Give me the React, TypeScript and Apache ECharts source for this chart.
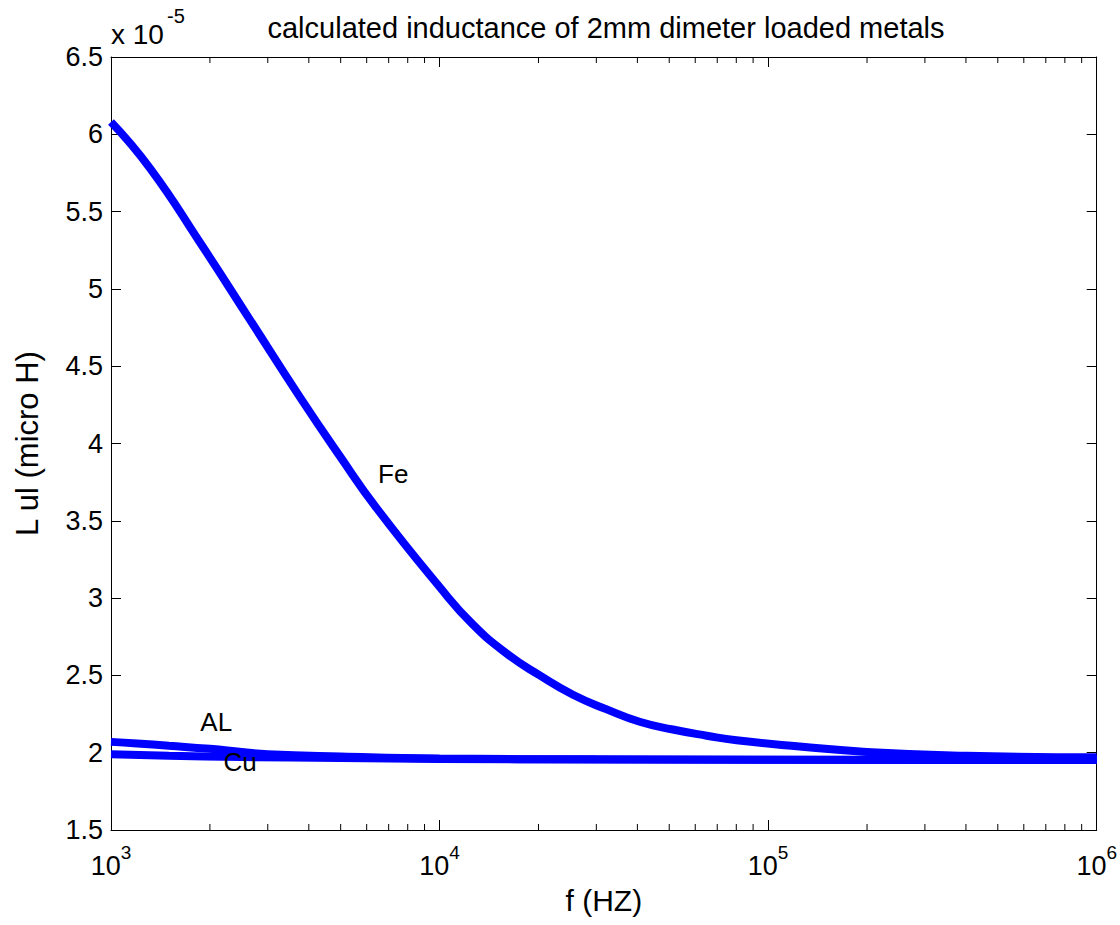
import React, { useEffect, useRef } from 'react';
import * as echarts from 'echarts';

const FONT = '"Liberation Sans", Arial, Helvetica, sans-serif';

const titleText = 'calculated inductance of 2mm dimeter loaded metals';
const xAxisName = 'f (HZ)';
const yAxisName = 'L ul (micro H)';
const yExponentBase = 'x 10';
const yExponentPower = '-5';

// Fe curve (frequency in Hz, inductance in units of 1e-5)
const feFreq = [1000, 1315, 1866, 2649, 3758, 4966, 6442, 10020, 12620, 16030, 20180, 25470, 32280, 40640, 51290, 65010, 80170, 124700, 199500, 401800, 1000000];
const feL = [6.08, 5.78, 5.3, 4.8, 4.3, 3.92, 3.58, 3.07, 2.83, 2.64, 2.5, 2.375, 2.28, 2.2, 2.15, 2.11, 2.08, 2.04, 2.005, 1.98, 1.97];

// AL curve
const alFreq = [1000, 1200, 1500, 2000, 2500, 3000, 5000, 10000, 30000, 100000, 1000000];
const alL = [2.07, 2.06, 2.045, 2.025, 2.005, 1.99, 1.975, 1.962, 1.957, 1.955, 1.953];

// Cu curve
const cuFreq = [1000, 1500, 2500, 5000, 10000, 30000, 1000000];
const cuL = [1.99, 1.98, 1.972, 1.966, 1.96, 1.956, 1.953];

// text annotations
const labelNames = ['Fe', 'AL', 'Cu'];
const labelFreq = [6500, 1870, 2200];
const labelL = [3.8, 2.2, 1.94];

// minor tick positions on the log axis
const minorTickFreqs = [
  2000, 3000, 4000, 5000, 6000, 7000, 8000, 9000,
  20000, 30000, 40000, 50000, 60000, 70000, 80000, 90000,
  200000, 300000, 400000, 500000, 600000, 700000, 800000, 900000,
];

const yMin = 1.5;
const yMax = 6.5;
const yStep = 0.5;
const xMin = 1000;
const xMax = 1000000;

const zip = (xs: number[], ys: number[]) => xs.map((x, i) => [x, ys[i]]);

export default function App() {
  const ref = useRef<HTMLDivElement>(null);
  useEffect(() => {
    if (!ref.current) return;
    const chart = echarts.init(ref.current, undefined, { renderer: 'svg' });

    const grid = { left: 111, right: 23, top: 57, bottom: 95 };
    const black = '#000';
    const lineStyle = { color: black, width: 1 };
    const curveStyle = { color: '#0000ff', width: 8 };

    const option: any = {
      animation: false,
      backgroundColor: '#fff',
      title: {
        text: titleText,
        left: 601,
        top: 8,
        textAlign: 'center',
        textStyle: { fontSize: 29, fontWeight: 'normal', color: black, fontFamily: FONT },
      },
      grid,
      xAxis: [
        {
          type: 'log',
          logBase: 10,
          min: xMin,
          max: xMax,
          position: 'bottom',
          name: xAxisName,
          nameLocation: 'middle',
          nameGap: 55,
          nameTextStyle: { fontSize: 30, color: black, fontFamily: FONT },
          axisLine: { show: true, onZero: false, lineStyle },
          axisTick: { show: true, inside: true, length: 10, lineStyle },
          splitLine: { show: false },
          minorTick: { show: false },
          axisLabel: {
            margin: 13,
            formatter: (v: number) => `{b|10}{s|${Math.round(Math.log10(v))}}`,
            rich: {
              b: { fontSize: 27, color: black, fontFamily: FONT },
              s: { fontSize: 19, color: black, fontFamily: FONT, padding: [0, 0, 26, 0] },
            },
          },
        },
        {
          type: 'log',
          logBase: 10,
          min: xMin,
          max: xMax,
          position: 'top',
          axisLine: { show: true, onZero: false, lineStyle },
          axisTick: { show: true, inside: true, length: 10, lineStyle },
          axisLabel: { show: false },
          splitLine: { show: false },
        },
      ],
      yAxis: [
        {
          type: 'value',
          min: yMin,
          max: yMax,
          interval: yStep,
          position: 'left',
          name: yAxisName,
          nameLocation: 'middle',
          nameGap: 68,
          nameTextStyle: { fontSize: 31, color: black, fontFamily: FONT },
          axisLine: { show: true, onZero: false, lineStyle },
          axisTick: { show: true, inside: true, length: 10, lineStyle },
          splitLine: { show: false },
          axisLabel: {
            margin: 8,
            fontSize: 27,
            color: black,
            fontFamily: FONT,
            formatter: (v: number) => String(v),
          },
        },
        {
          type: 'value',
          min: yMin,
          max: yMax,
          interval: yStep,
          position: 'right',
          axisLine: { show: true, onZero: false, lineStyle },
          axisTick: { show: true, inside: true, length: 10, lineStyle },
          splitLine: { show: false },
          axisLabel: { show: false },
        },
      ],
      graphic: [
        {
          type: 'text',
          left: 111,
          top: 20,
          style: { text: yExponentBase, fontSize: 28, fill: black, fontFamily: FONT },
        },
        {
          type: 'text',
          left: 167,
          top: 6,
          style: { text: yExponentPower, fontSize: 20, fill: black, fontFamily: FONT },
        },
      ],
      series: [
        {
          name: 'Fe',
          type: 'line',
          data: zip(feFreq, feL),
          showSymbol: false,
          symbol: 'none',
          smooth: 0.5,
          lineStyle: curveStyle,
        },
        {
          name: 'AL',
          type: 'line',
          data: zip(alFreq, alL),
          showSymbol: false,
          symbol: 'none',
          smooth: 0.5,
          lineStyle: curveStyle,
        },
        {
          name: 'Cu',
          type: 'line',
          data: zip(cuFreq, cuL),
          showSymbol: false,
          symbol: 'none',
          smooth: 0.5,
          lineStyle: curveStyle,
        },
        {
          name: 'minorTicks',
          type: 'custom',
          silent: true,
          clip: false,
          z: 10,
          data: minorTickFreqs.map((f) => [f, yMin]),
          encode: { x: 0, y: 1 },
          renderItem: (params: any, api: any) => {
            const f = api.value(0);
            const pb = api.coord([f, yMin]);
            const pt = api.coord([f, yMax]);
            const st = { stroke: black, lineWidth: 1 };
            return {
              type: 'group',
              children: [
                { type: 'line', shape: { x1: pb[0], y1: pb[1], x2: pb[0], y2: pb[1] - 6 }, style: st },
                { type: 'line', shape: { x1: pt[0], y1: pt[1], x2: pt[0], y2: pt[1] + 6 }, style: st },
              ],
            };
          },
        },
        {
          name: 'labels',
          type: 'scatter',
          symbolSize: 0,
          silent: true,
          itemStyle: { color: black },
          data: labelNames.map((n, i) => ({ name: n, value: [labelFreq[i], labelL[i]] })),
          label: {
            show: true,
            position: 'right',
            distance: 0,
            formatter: (p: any) => p.name,
            fontSize: 26,
            color: black,
            opacity: 1,
            fontFamily: FONT,
          },
          z: 5,
        },
      ],
    };
    chart.setOption(option);
    return () => chart.dispose();
  }, []);
  return (
    <div
      ref={ref}
      style={{ position: 'fixed', left: 0, top: 0, width: 1120, height: 925, background: '#fff' }}
    />
  );
}
